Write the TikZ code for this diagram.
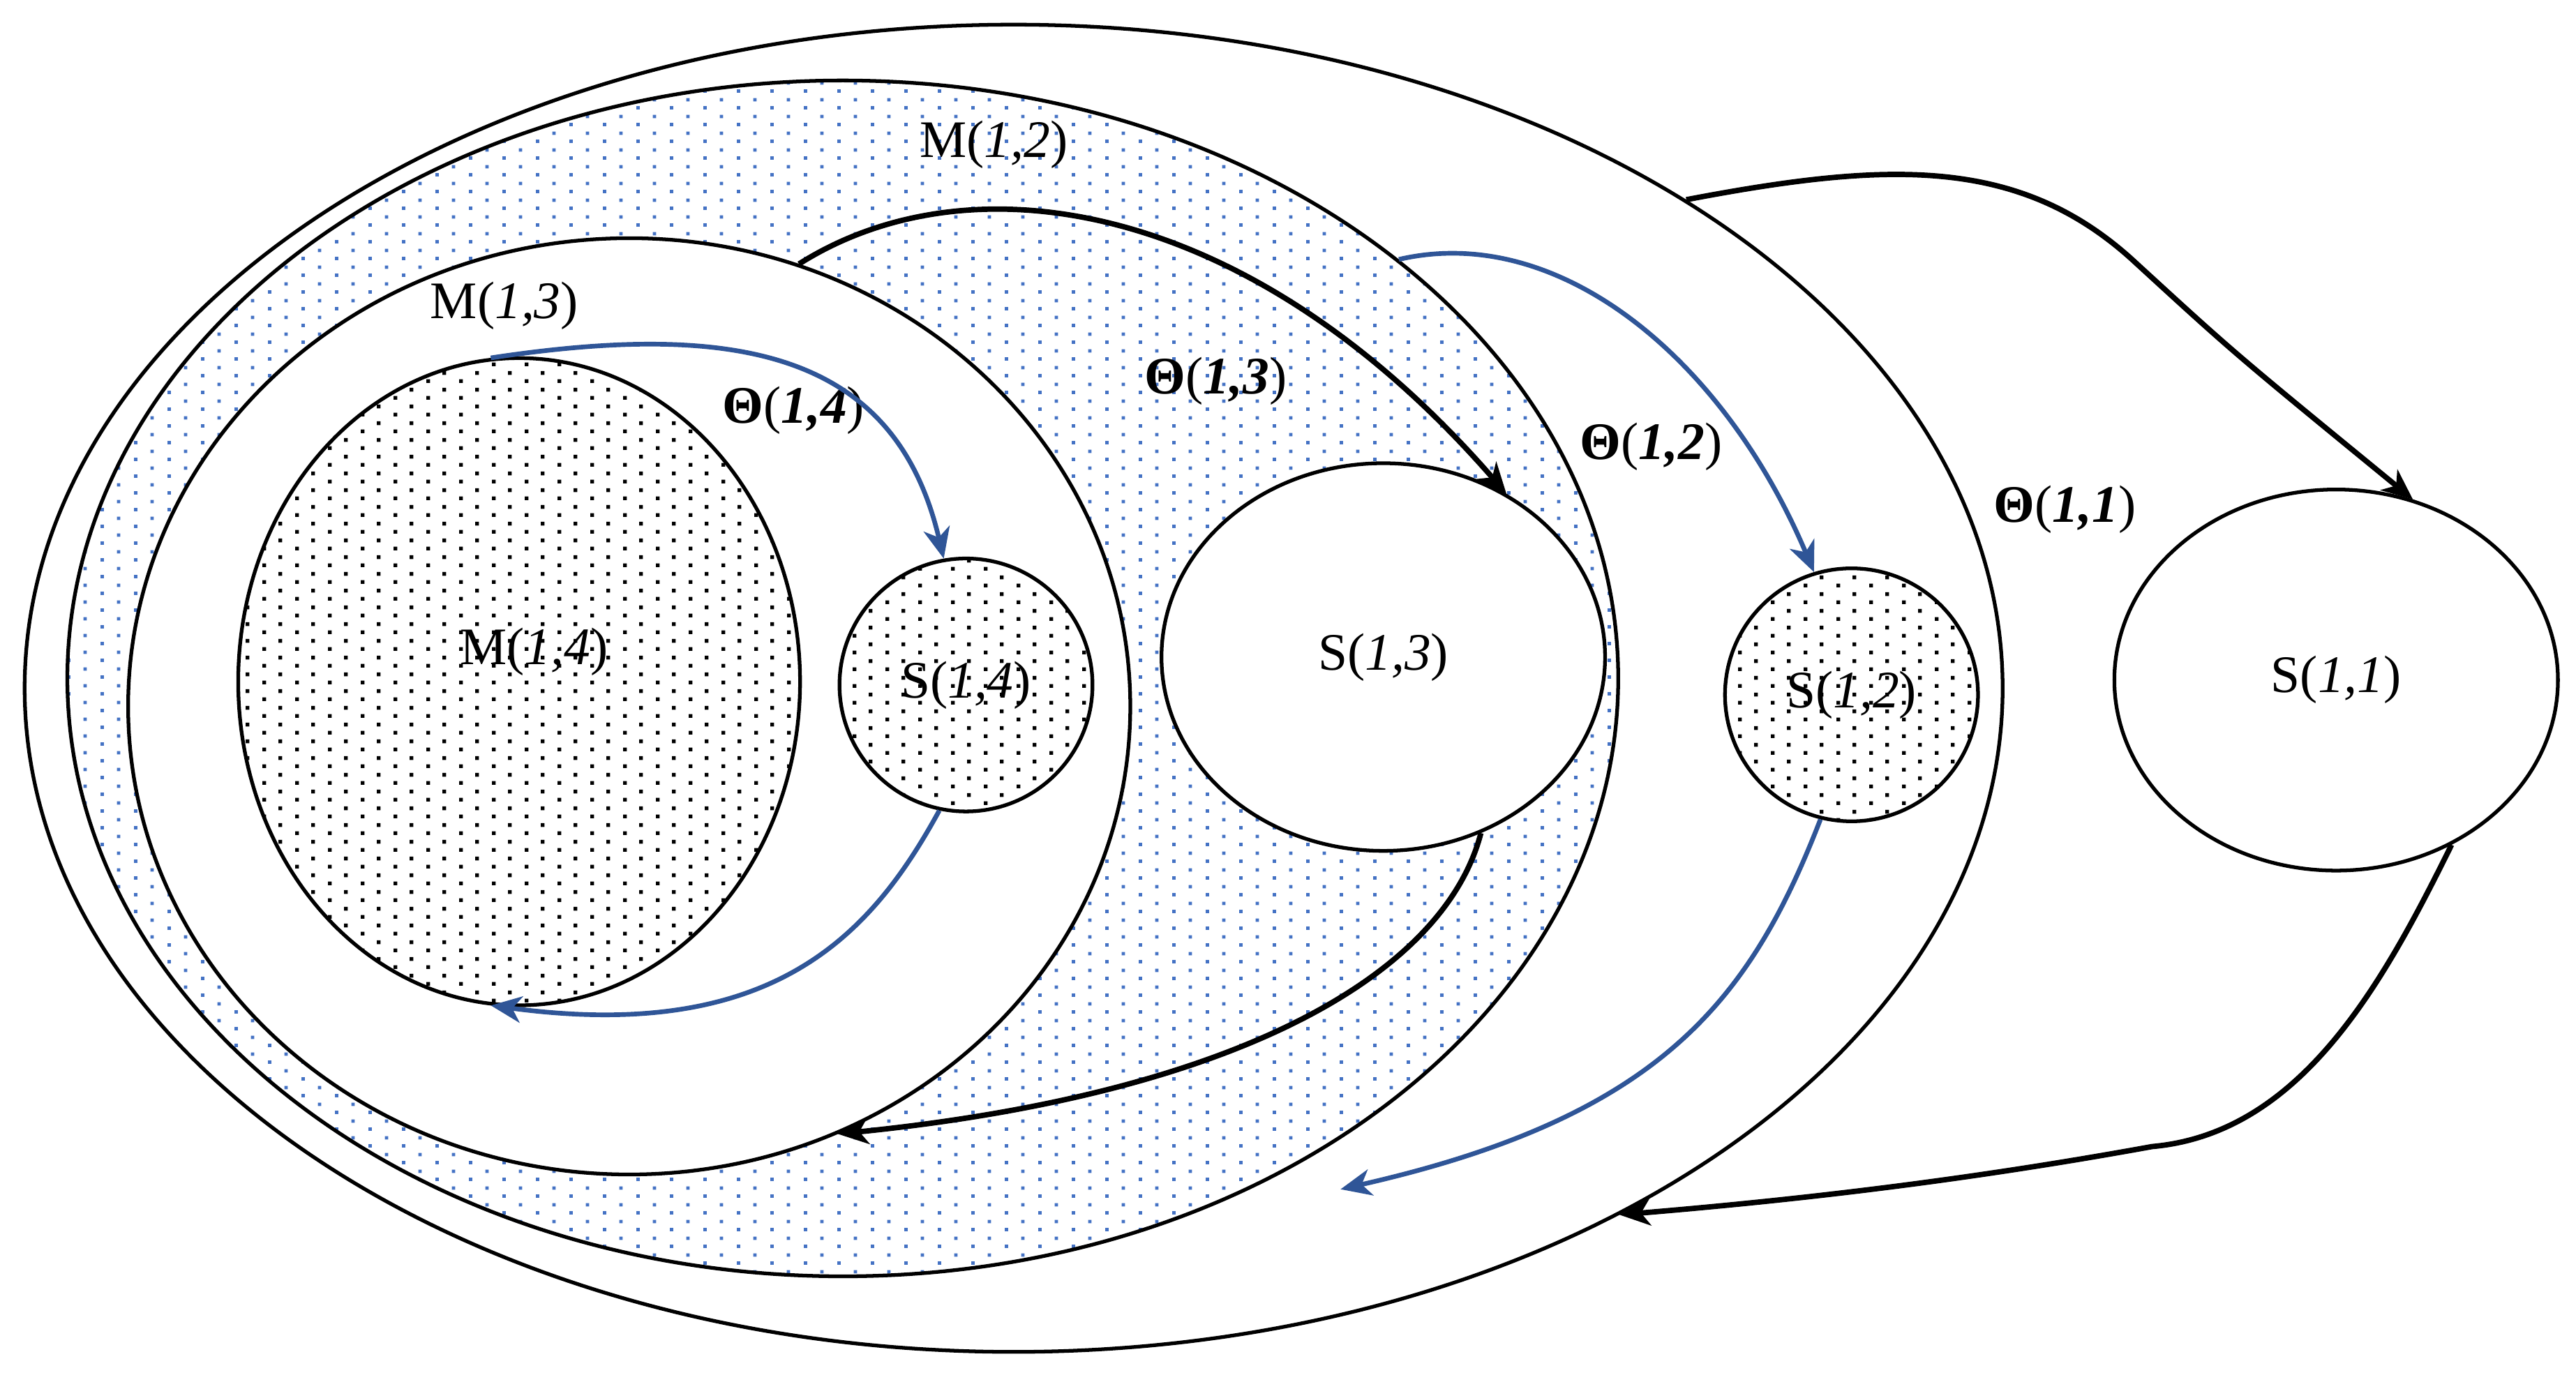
\documentclass[tikz,border=0pt]{standalone}
\usepackage{fontspec}
\setmainfont{Liberation Serif}
\usetikzlibrary{shapes.geometric,arrows.meta,patterns.meta}

\definecolor{dotblue}{RGB}{68,114,196}
\definecolor{arrowblue}{RGB}{47,85,151}

% dotted fills
\tikzdeclarepattern{
  name=bluedots,
  type=colored,
  bottom left={(0cm,0cm)},
  top right={(0.48cm,0.24cm)},
  tile size={(0.48cm,0.24cm)},
  code={
    \fill[dotblue] (0cm,0cm) rectangle (0.05cm,0.05cm);
    \fill[dotblue] (0.24cm,0.12cm) rectangle (0.29cm,0.17cm);
  }
}
\tikzdeclarepattern{
  name=blackdots,
  type=colored,
  bottom left={(0cm,0cm)},
  top right={(0.47cm,0.236cm)},
  tile size={(0.47cm,0.236cm)},
  code={
    \fill[black] (0cm,0cm) rectangle (0.055cm,0.055cm);
    \fill[black] (0.235cm,0.118cm) rectangle (0.29cm,0.173cm);
  }
}

\begin{document}
\begin{tikzpicture}[x=0.023546cm, y=-0.023546cm]
\tikzset{set/.style 2 args = {shape=ellipse, draw, line width=1.5pt, inner sep=0pt,
  minimum width=#1*0.023546cm, minimum height=#2*0.023546cm, font=\fontsize{21.5}{26}\selectfont}}
\tikzset{lbl/.style = {inner sep=0pt, font=\fontsize{21.5}{26}\selectfont}}
\tikzset{edge/.style = {-{Stealth[length=0.44cm, width=0.38cm, inset=0.13cm]}, line width=2.2pt}}
\tikzset{bedge/.style = {edge, draw=arrowblue, line width=1.9pt}}

\useasboundingbox (0,0) rectangle (1568,841);

% nested sets
\node[set={1204}{808}, fill=white] (outer) at (617,419) {};
\node[set={944}{728}, pattern=bluedots] (m12) at (513,413) {};
\node[set={610}{570}, fill=white] (m13) at (383,430) {};
\node[set={342}{394}, pattern=blackdots] (m14) at (316,415) {};
\node[set={154}{154}, pattern=blackdots] (s14) at (588,417) {S(\textit{1,4})};
\node[set={270}{236}, fill=white] (s13) at (842,400) {S(\textit{1,3})};
\node[set={154}{154}, pattern=blackdots] (s12) at (1127,423) {S(\textit{1,2})};
\node[set={270}{232}, fill=white] (s11) at (1422,414) {S(\textit{1,1})};
\coordinate (s12 back) at (816,724);

% labels
\node[lbl] (m12 label) at (605,88) {M(\textit{1,2})};
\node[lbl] (m13 label) at (307,186) {M(\textit{1,3})};
\node[lbl] (m14 label) at (325,397) {M(\textit{1,4})};
\node[lbl] (t14) at (483,250) {\textbf{Θ}(\textbf{\textit{1,4}})};
\node[lbl] (t13) at (740,232) {\textbf{Θ}(\textbf{\textit{1,3}})};
\node[lbl] (t12) at (1005,272) {\textbf{Θ}(\textbf{\textit{1,2}})};
\node[lbl] (t11) at (1257,310) {\textbf{Θ}(\textbf{\textit{1,1}})};

% edges
\draw[bedge] (m14.95) .. controls (450,195) and (545,215) .. (s14.100);
\draw[bedge] (s14.258) .. controls (530,570) and (470,635) .. (m14.265);
\draw[edge] (m13.69) .. controls (590,95) and (760,120) .. (s13.53);
\draw[edge] (s13.299) .. controls (880,590) and (760,665) .. (m13.296);
\draw[bedge] (m12.37) .. controls (950,135) and (1050,220) .. (s12.107);
\draw[bedge] (s12.256) .. controls (1065,610) and (1010,680) .. (s12 back);
\draw[edge] (outer.36) .. controls (1150,98) and (1230,95) .. (1300,160)
  .. controls (1360,215) .. (s11.67);
\draw[edge] (s11.305) .. controls (1450,600) and (1400,690) .. (1310,698)
  .. controls (1200,718) and (1100,730) .. (outer.319);

\end{tikzpicture}
\end{document}
